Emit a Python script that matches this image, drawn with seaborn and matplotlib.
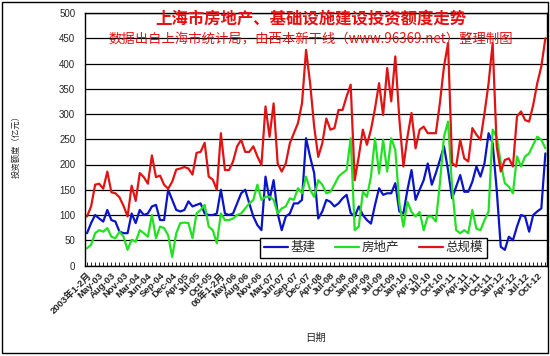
import numpy as np
import pandas as pd
import matplotlib
matplotlib.use('Agg')
import matplotlib.pyplot as plt
import seaborn as sns
from matplotlib.patches import Rectangle

# 月度投资额度（亿元），2003年1-2月 ~ 2012年12月
jijian = [64, 84, 100, 93, 87, 110, 90, 87, 67, 64,
          64, 103, 84, 110, 100, 103, 117, 120, 90, 90,
          150, 130, 110, 107, 110, 127, 117, 120, 123, 103,
          100, 100, 103, 150, 103, 100, 103, 123, 143, 150,
          123, 97, 80, 70, 176, 130, 169, 103, 70, 97,
          103, 123, 123, 130, 252, 215, 183, 93, 107, 130,
          126, 117, 123, 133, 140, 104, 97, 117, 100, 90,
          83, 120, 153, 140, 143, 143, 163, 107, 103, 150,
          189, 130, 150, 169, 202, 160, 183, 209, 236, 189,
          133, 156, 179, 146, 146, 166, 196, 176, 203, 262,
          242, 150, 37, 31, 57, 50, 77, 100, 97, 67,
          100, 107, 113, 222]
fangdichan = [34, 41, 64, 70, 67, 74, 57, 54, 67, 57,
              31, 51, 47, 70, 64, 57, 100, 54, 77, 74,
              60, 17, 64, 84, 85, 84, 54, 103, 110, 120,
              77, 70, 44, 103, 90, 90, 93, 100, 103, 113,
              123, 130, 160, 130, 136, 136, 130, 103, 113, 117,
              133, 130, 153, 143, 176, 150, 136, 169, 160, 143,
              146, 160, 176, 183, 189, 252, 70, 77, 146, 136,
              176, 252, 182, 249, 186, 252, 229, 123, 77, 126,
              106, 97, 106, 70, 97, 97, 87, 163, 255, 285,
              156, 70, 64, 70, 64, 110, 73, 70, 90, 107,
              269, 255, 203, 163, 156, 143, 216, 196, 216, 222,
              239, 255, 249, 232]
zongguimo = [97, 117, 160, 162, 152, 186, 145, 143, 135, 118,
             97, 158, 128, 183, 175, 162, 218, 175, 178, 160,
             152, 166, 190, 192, 195, 192, 180, 223, 225, 243,
             176, 170, 150, 262, 189, 189, 206, 236, 249, 225,
             225, 236, 216, 199, 315, 255, 321, 202, 186, 202,
             242, 262, 282, 321, 427, 361, 275, 215, 242, 291,
             269, 272, 308, 308, 335, 358, 169, 216, 269, 239,
             269, 311, 361, 298, 391, 325, 414, 290, 196, 255,
             302, 232, 269, 275, 262, 262, 262, 322, 394, 440,
             203, 196, 249, 212, 206, 272, 259, 249, 302, 361,
             440, 236, 186, 209, 212, 196, 295, 305, 288, 285,
             318, 361, 394, 450]

tick_labels = ['2003年1-2月', 'May-03', 'Aug-03', 'Nov-03', 'Mar-04', 'Jun-04',
               'Sep-04', 'Dec-04', 'Apr-05', 'Jul-05', 'Oct-05', '06年1-2月',
               'May-06', 'Aug-06', 'Nov-06', 'Mar-07', 'Jun-07', 'Sep-07',
               'Dec-07', 'Apr-08', 'Jul-08', 'Oct-08', 'Jan-09', 'Apr-09',
               'Jul-09', 'Oct-09', 'Jan-10', 'Apr-10', 'Jul-10', 'Oct-10',
               'Jan-11', 'Apr-11', 'Jul-11', 'Oct-11', 'Jan-12', 'Apr-12',
               'Jul-12', 'Oct-12']

sns.set_style('white')
plt.rcParams['font.family'] = ['Liberation Sans', 'Noto Sans CJK SC']
plt.rcParams['axes.unicode_minus'] = False

n = len(zongguimo)
df = pd.DataFrame({
    '月份': np.tile(np.arange(n), 3),
    '投资额度': jijian + fangdichan + zongguimo,
    '类别': ['基建'] * n + ['房地产'] * n + ['总规模'] * n,
})
colors = {'基建': '#0a14c8', '房地产': '#22e022', '总规模': '#e01414'}

fig = plt.figure(figsize=(5.5, 3.56), dpi=100)
ax = fig.add_axes([85 / 550, 1 - 265.5 / 356, (547 - 85) / 550, (265.5 - 13) / 356])

sns.lineplot(data=df, x='月份', y='投资额度', hue='类别', palette=colors,
             linewidth=1.6, ax=ax)

ax.set_ylim(0, 500)
ax.set_xlim(-0.5, 113.4)
ax.set_yticks(range(0, 501, 50))
ax.yaxis.grid(True, color='black', lw=0.9)
ax.xaxis.grid(False)
ax.set_axisbelow(True)
for s in ax.spines.values():
    s.set_color('black')
    s.set_linewidth(1)

ax.set_xticks(np.arange(n), minor=True)
ax.set_xticks(np.arange(0, n, 3))
ax.set_xticklabels(tick_labels, rotation=45, ha='right', rotation_mode='anchor',
                   fontsize=6.8, fontweight='bold')
ax.tick_params(axis='x', which='both', direction='in', length=3, width=0.6,
               color='black', pad=4, bottom=True)
ax.tick_params(axis='y', length=0, pad=7, labelsize=7)
ax.set_xlabel('')
ax.set_ylabel('')

leg = ax.legend(loc='center', bbox_to_anchor=(373.5 / 550, 1 - 248 / 356),
                bbox_transform=fig.transFigure, ncol=3, frameon=True,
                fancybox=False, edgecolor='black', framealpha=1, fontsize=9,
                handlelength=1.9, handletextpad=0.2, columnspacing=1.6,
                borderpad=0.3)
leg.get_frame().set_linewidth(1)

fig.text(311 / 550, 1 - 19 / 356, '上海市房地产、基础设施建设投资额度走势',
         ha='center', va='center', color='#e81010', fontsize=11.8,
         fontweight='bold', family=['Noto Sans CJK SC'])
fig.text(311 / 550, 1 - 39.5 / 356,
         '数据出自上海市统计局，由西本新干线（www.96369.net）整理制图',
         ha='center', va='center', color='#e81010', fontsize=9.6,
         family=['Noto Sans CJK SC'])
fig.text(316 / 550, 1 - 338 / 356, '日期', ha='center', va='center', fontsize=7.5)
fig.text(16 / 550, 1 - 145 / 356, '投资额度（亿元）', ha='center', va='center',
         rotation=90, fontsize=6)

fig.add_artist(Rectangle((2 / 550, 3 / 356), 546 / 550, 351 / 356,
                         transform=fig.transFigure, fill=False,
                         edgecolor='black', lw=1))

fig.savefig('out.png', dpi=100)
